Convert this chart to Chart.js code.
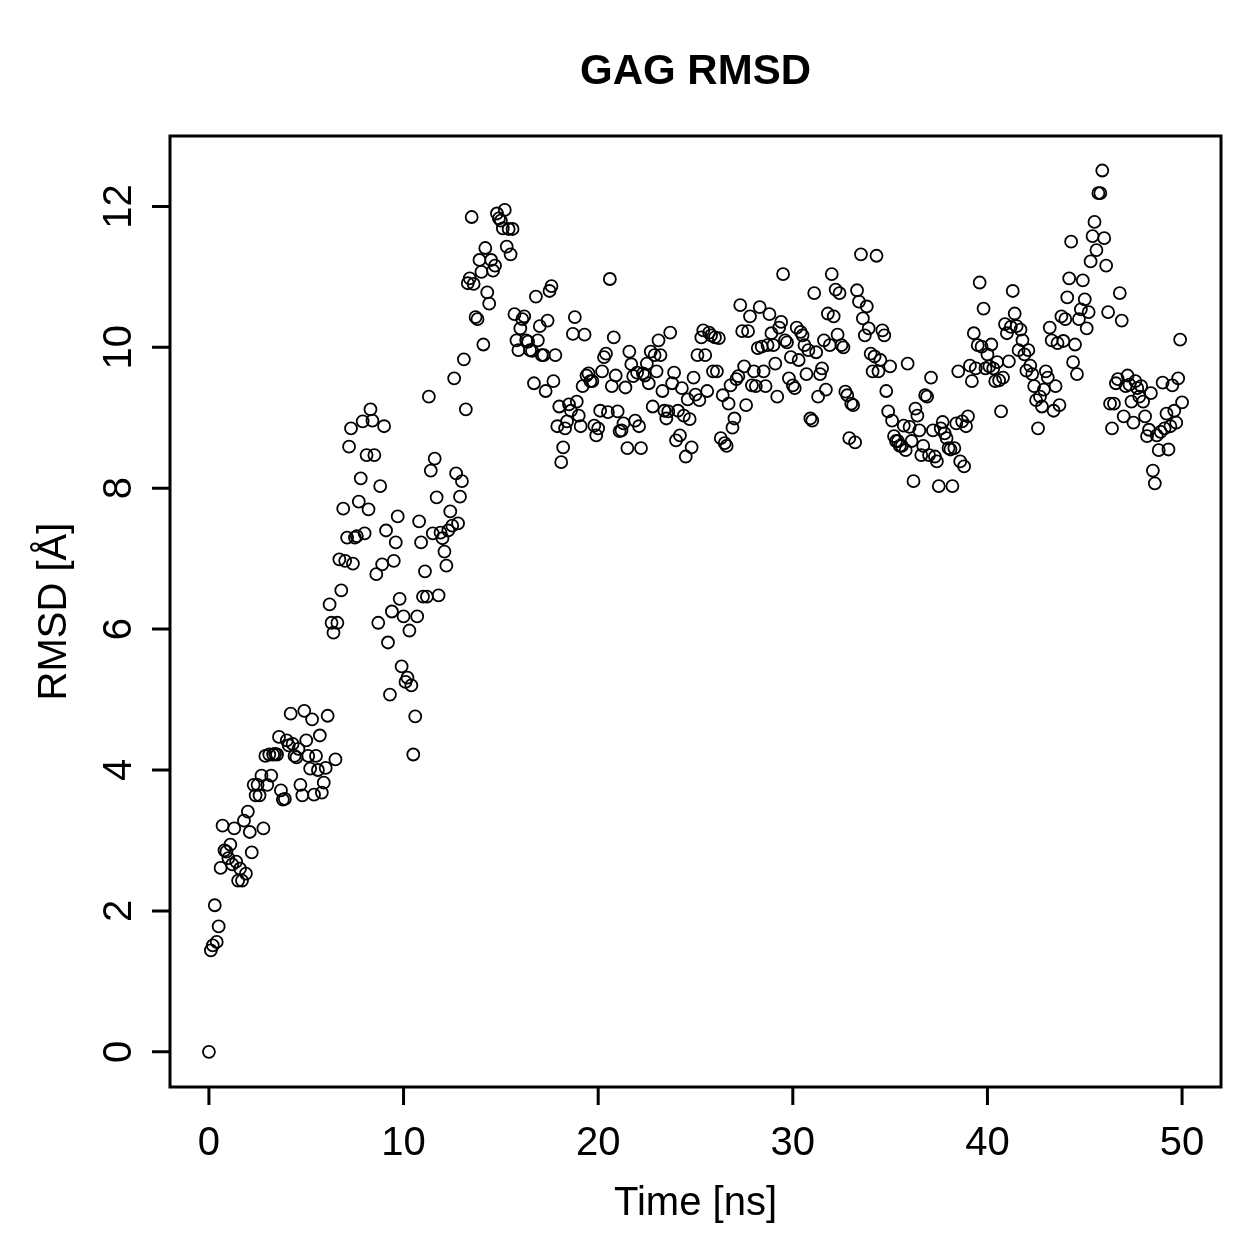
<!DOCTYPE html>
<html lang="en">

<head>
    <meta charset="UTF-8">
    <title>GAG RMSD</title>
    <script src="https://cdn.jsdelivr.net/npm/chart.js"></script>
    <style>
        body {
            margin: 0;
            background-color: #ffffff;
        }

        canvas {
            display: block;
        }
    </style>
</head>

<body>
    <canvas id="rmsdChart" width="1259" height="1259"></canvas>

    <script>
        // RMSD per frame; one row per ns, frames every 0.1 ns
        const rmsd = [
            0, 1.44, 1.51, 2.08, 1.56, 1.78, 2.61, 3.21, 2.86, 2.84,
            2.75, 2.94, 2.66, 3.17, 2.7, 2.43, 2.6, 2.43, 3.28, 2.53,
            3.41, 3.12, 2.83, 3.79, 3.64, 3.79, 3.64, 3.92, 3.17, 4.2,
            3.79, 4.22, 3.92, 4.22, 4.23, 4.22, 4.47, 3.71, 3.58, 3.59,
            4.42, 4.35, 4.8, 4.37, 4.2, 4.18, 4.3, 3.79, 3.64, 4.84,
            4.42, 4.2, 4.02, 4.72, 3.65, 4.2, 4.0, 4.49, 3.68, 3.82,
            4.03, 4.77, 6.35, 6.09, 5.95, 4.15, 6.09, 6.99, 6.55, 7.71,
            6.97, 7.3, 8.59, 8.85, 6.93, 7.3, 7.32, 7.81, 8.14, 8.95,
            7.36, 8.47, 7.7, 9.12, 8.96, 8.47, 6.78, 6.09, 8.03, 6.92,
            8.88, 7.4, 5.81, 5.07, 6.25, 6.97, 7.23, 7.6, 6.43, 5.47,
            6.18, 5.25, 5.31, 5.98, 5.2, 4.22, 4.76, 6.18, 7.53, 7.23,
            6.46, 6.82, 6.46, 9.3, 8.25, 7.36, 8.42, 7.87, 6.48, 7.37,
            7.29, 7.1, 6.9, 7.4, 7.67, 7.47, 9.56, 8.21, 7.5, 7.88,
            8.1, 9.83, 9.12, 10.91, 10.98, 11.85, 10.9, 10.43, 10.4, 11.24,
            11.07, 10.04, 11.41, 10.78, 10.62, 11.24, 11.09, 11.16, 11.9, 11.83,
            11.8, 11.69, 11.95, 11.43, 11.68, 11.32, 11.68, 10.47, 10.1, 9.96,
            10.27, 10.4, 10.44, 10.1, 10.08, 9.96, 9.95, 9.49, 10.72, 10.1,
            10.3, 9.89, 9.89, 9.38, 10.38, 10.8, 10.87, 9.52, 9.89, 8.88,
            9.16, 8.37, 8.58, 8.85, 8.95, 9.19, 9.1, 10.19, 10.43, 9.23,
            9.03, 8.88, 9.45, 10.18, 9.6, 9.63, 9.52, 9.52, 8.89, 8.75,
            8.85, 9.1, 9.66, 9.86, 9.91, 9.08, 10.97, 9.45, 10.14, 9.6,
            9.09, 8.81, 8.82, 8.92, 9.43, 8.57, 9.94, 9.76, 9.59, 8.96,
            9.64, 8.88, 8.57, 9.63, 9.6, 9.77, 9.49, 9.94, 9.16, 9.89,
            9.66, 10.1, 9.89, 9.38, 9.1, 8.99, 9.09, 10.21, 9.49, 9.64,
            8.68, 9.1, 8.75, 9.42, 9.03, 8.45, 9.26, 8.98, 8.58, 9.57,
            9.33, 9.89, 9.25, 10.14, 10.24, 9.89, 9.38, 10.21, 10.17, 9.66,
            10.14, 9.66, 10.13, 8.71, 9.32, 8.64, 8.6, 9.2, 9.46, 8.86,
            8.99, 9.55, 9.59, 10.6, 10.23, 9.73, 9.18, 10.23, 10.44, 9.46,
            9.66, 9.45, 9.99, 10.57, 10.01, 9.66, 9.45, 10.03, 10.47, 10.2,
            10.03, 9.77, 9.3, 10.28, 10.36, 11.04, 10.1, 10.07, 9.56, 9.86,
            9.46, 9.42, 10.28, 9.82, 10.22, 10.17, 10.03, 9.62, 9.96, 8.99,
            8.96, 10.77, 9.93, 9.3, 9.62, 9.7, 10.1, 9.4, 10.48, 10.03,
            11.04, 10.44, 10.82, 10.18, 10.77, 10.03, 10.0, 9.37, 9.32, 8.71,
            9.2, 9.18, 8.65, 10.81, 10.65, 11.32, 10.41, 10.17, 10.58, 10.27,
            9.91, 9.66, 9.87, 11.3, 9.66, 9.82, 10.24, 10.17, 9.38, 9.09,
            9.73, 8.96, 8.74, 8.67, 8.67, 8.6, 8.6, 8.89, 8.54, 9.77,
            8.87, 8.67, 8.1, 9.13, 9.03, 8.82, 8.47, 8.6, 9.32, 9.3,
            8.47, 9.57, 8.82, 8.45, 8.38, 8.03, 8.85, 8.94, 8.78, 8.71,
            8.57, 8.55, 8.03, 8.57, 8.92, 9.66, 8.38, 8.95, 8.31, 8.88,
            9.02, 9.74, 9.52, 10.2, 9.7, 10.03, 10.92, 10.01, 10.55, 9.7,
            9.9, 9.73, 10.04, 9.7, 9.52, 9.79, 9.53, 9.09, 9.57, 10.33,
            10.2, 9.8, 10.29, 10.8, 10.48, 10.3, 9.96, 10.25, 10.1, 9.9,
            9.67, 9.96, 9.74, 9.62, 9.45, 9.25, 8.85, 9.3, 9.16, 9.4,
            9.66, 9.57, 10.28, 10.1, 9.1, 9.45, 10.06, 9.18, 10.44, 10.09,
            10.4, 10.71, 10.98, 11.5, 9.79, 10.04, 9.62, 10.4, 10.54, 10.95,
            10.68, 10.27, 10.5, 11.22, 11.58, 11.78, 11.38, 12.19, 12.19, 12.51,
            11.55, 11.16, 10.5, 9.2, 8.85, 9.2, 9.49, 9.55, 10.77, 10.38,
            9.02, 9.45, 9.6, 9.47, 9.23, 8.93, 9.52, 9.42, 9.3, 9.45,
            9.23, 9.02, 8.74, 8.83, 9.35, 8.25, 8.07, 8.75, 8.54, 8.8,
            9.5, 8.85, 9.06, 8.55, 8.88, 9.46, 9.1, 8.93, 9.56, 10.11,
            9.22
        ];
        const frameStep = 0.1; // ns between saved frames

        const xTicks = [0, 10, 20, 30, 40, 50];
        const yTicks = [0, 2, 4, 6, 8, 10, 12];
        const chartTitle = "GAG RMSD";
        const xTitle = "Time [ns]";
        const yTitle = "RMSD [Å]";

        const points = rmsd.map((v, i) => ({ x: +(i * frameStep).toFixed(1), y: v }));

        const FONT = "'Liberation Sans', Arial, Helvetica, sans-serif";

        // R-style box, outward ticks and labels
        const rAxes = {
            id: "rAxes",
            afterDraw(chart) {
                const ctx = chart.ctx;
                const a = chart.chartArea;
                const xs = chart.scales.x;
                const ys = chart.scales.y;
                ctx.save();
                ctx.strokeStyle = "#000";
                ctx.fillStyle = "#000";
                ctx.lineWidth = 3;
                ctx.strokeRect(a.left, a.top, a.right - a.left, a.bottom - a.top);

                ctx.beginPath();
                xTicks.forEach(t => {
                    const px = xs.getPixelForValue(t);
                    ctx.moveTo(px, a.bottom);
                    ctx.lineTo(px, a.bottom + 18);
                });
                yTicks.forEach(t => {
                    const py = ys.getPixelForValue(t);
                    ctx.moveTo(a.left, py);
                    ctx.lineTo(a.left - 18, py);
                });
                ctx.stroke();

                ctx.font = "40px " + FONT;
                ctx.textAlign = "center";
                ctx.textBaseline = "alphabetic";
                xTicks.forEach(t => {
                    ctx.fillText(String(t), xs.getPixelForValue(t), 1155);
                });
                yTicks.forEach(t => {
                    ctx.save();
                    ctx.translate(131, ys.getPixelForValue(t));
                    ctx.rotate(-Math.PI / 2);
                    ctx.fillText(String(t), 0, 0);
                    ctx.restore();
                });

                const cx = (a.left + a.right) / 2;
                const cy = (a.top + a.bottom) / 2;
                ctx.fillText(xTitle, cx, 1215);
                ctx.save();
                ctx.translate(66, cy);
                ctx.rotate(-Math.PI / 2);
                ctx.fillText(yTitle, 0, 0);
                ctx.restore();

                ctx.font = "bold 42px " + FONT;
                ctx.fillText(chartTitle, cx, 84);
                ctx.restore();
            }
        };

        new Chart(document.getElementById("rmsdChart"), {
            type: "scatter",
            data: {
                datasets: [{
                    data: points,
                    pointStyle: "circle",
                    pointRadius: 6,
                    pointHoverRadius: 6,
                    pointBorderWidth: 1.8,
                    pointBorderColor: "#000",
                    pointBackgroundColor: "rgba(0,0,0,0)",
                    showLine: false
                }]
            },
            options: {
                responsive: false,
                animation: false,
                layout: {
                    padding: { left: 170, top: 136, right: 38, bottom: 172 }
                },
                plugins: {
                    legend: { display: false },
                    tooltip: { enabled: false },
                    title: { display: false }
                },
                scales: {
                    x: { type: "linear", min: -2, max: 52, display: false },
                    y: { type: "linear", min: -0.5, max: 13, display: false }
                }
            },
            plugins: [rAxes]
        });
    </script>
</body>

</html>
